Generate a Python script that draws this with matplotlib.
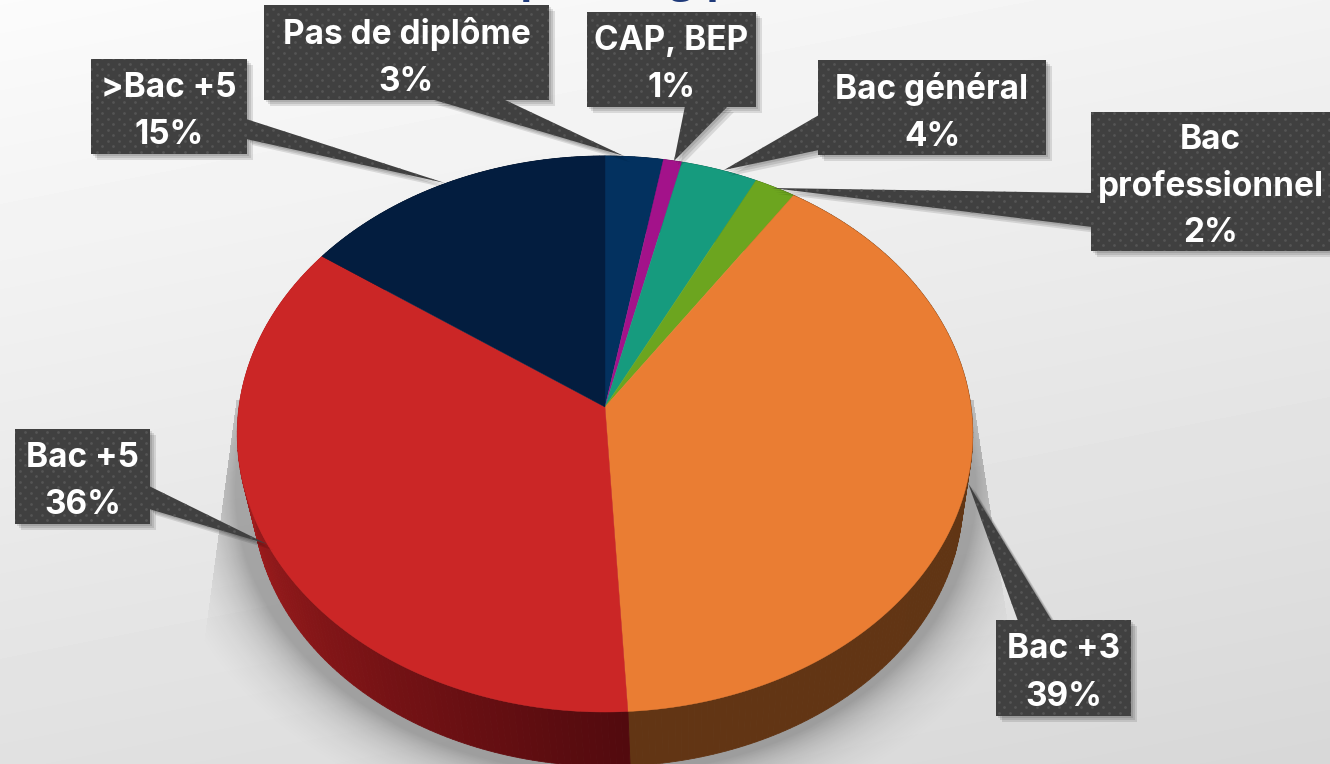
import numpy as np
import matplotlib
matplotlib.use("Agg")
import matplotlib.pyplot as plt
from matplotlib.colors import to_rgb

categories = ["Pas de diplôme", "CAP, BEP", "Bac général", "Bac\nprofessionnel", "Bac +3", "Bac +5", ">Bac +5"]
percent_labels = [3, 1, 4, 2, 39, 36, 15]
# slice sizes as measured on the picture, the labels above are rounded
shares = [2.8, 0.9, 3.7, 2.0, 39.7, 35.7, 15.2]

# styles and layout
top_colors = ["#03315f", "#a3128a", "#169b7e", "#6ca51f", "#ea7d33", "#cb2626", "#031d3f"]
wall_from = ["#021f3c", "#660b57", "#0d6150", "#446813", "#5e3414", "#520a0e", "#02122a"]
wall_to = ["#021f3c", "#660b57", "#0d6150", "#446813", "#623514", "#b02020", "#02122a"]
# left, top, right, bottom of each label box, then pointer base a, base b, tip
boxes = [(264, 5, 549, 100), (587, 12, 756, 107), (818, 60, 1046, 155), (1091, 112, 1332, 251),
         (996, 620, 1131, 716), (15, 429, 150, 524), (91, 59, 247, 154)]
pointers = [((431, 99), (503, 99), (624, 156)), ((685, 106), (728, 106), (674, 161)),
            ((819, 115), (819, 150), (724, 170)), ((1092, 193), (1092, 227), (772, 188)),
            ((1018, 621), (1052, 621), (968, 483)), ((149, 486), (149, 509), (267, 544)),
            ((246, 119), (246, 139), (445, 183))]
BOX = "#404040"
DOT = "#555555"

CX, CY = 605, 407
RX, RY, K = 366, 275.4, 0.0971


def rim(theta):
    # circle seen in perspective, theta clockwise from the top
    s, c = np.sin(theta), np.cos(theta)
    w = 1 + K * c
    return CX + RX * s / w, CY - RY * c / w


def low_rim(theta):
    x, y = rim(theta)
    return 608 + (x - CX) * 0.965, 498 + (y - 434) * 0.965


fig = plt.figure(figsize=(13.3, 7.64), dpi=100)
ax = fig.add_axes([0, 0, 1, 1])

# background
yy, xx = np.mgrid[0:764, 0:1330]
bg = 0.985 - 0.105 * yy / 764 - 0.036 * xx / 1330
ax.imshow(bg, cmap="gray", vmin=0, vmax=1, extent=(0, 1330, 764, 0), aspect="auto", zorder=0)

# soft pie shadow
d = (np.sqrt(((xx - 605) / 392) ** 2 + ((yy - 490) / 300) ** 2) - 1) * 392
alpha = 0.32 * np.clip(np.exp(-np.clip(d + 22, 0, None) / 35) - 0.1, 0, None)
left = 236 - (yy - 400) * 24 / 180
right = 973 + (yy - 400) * 17 / 110
alpha[(xx < left) | (xx > right) | (yy < 400)] = 0
shadow = np.zeros((764, 1330, 4))
shadow[..., 3] = alpha
ax.imshow(shadow, extent=(0, 1330, 764, 0), aspect="auto", zorder=1)

# pie
edges = 2 * np.pi * np.cumsum([0] + shares) / sum(shares)
for i in range(len(shares)):
    ts = np.linspace(edges[i], edges[i + 1], max(int((edges[i + 1] - edges[i]) * 60), 2) + 1)
    c0, c1 = np.array(to_rgb(wall_from[i])), np.array(to_rgb(wall_to[i]))
    for j in range(len(ts) - 1):
        t = ts[j:j + 2]
        ux, uy = rim(t)
        lx, ly = low_rim(t)
        col = c0 + (c1 - c0) * min(j / (len(ts) * 0.75), 1)
        ax.fill(np.r_[ux, lx[::-1]], np.r_[uy, ly[::-1]], color=col, lw=0.6, zorder=2)
for i in range(len(shares)):
    ts = np.linspace(edges[i], edges[i + 1], 200)
    x, y = rim(ts)
    ax.fill(np.r_[CX, x], np.r_[CY, y], color=top_colors[i], lw=0.3, zorder=3)

# cut off title, only the descenders are left on the picture
ax.text(533, -8, "p", color="#1f3a7a", fontsize=30, fontweight="bold",
        family="Open Sans", ha="center", va="baseline", zorder=2)
ax.text(695, -8, "gq", color="#1f3a7a", fontsize=30, fontweight="bold",
        family="Open Sans", ha="center", va="baseline", zorder=2)

# callouts
gy, gx = np.mgrid[0:780:5.5, 0:1340:11]
gx = gx + (np.arange(gx.shape[0])[:, None] % 2) * 5.5
for i, name in enumerate(categories):
    l, t, r, b = boxes[i]
    rect = [(l, t), (r, t), (r, b), (l, b)]
    for poly in (rect, pointers[i]):
        px, py = np.array(poly).T
        for off in (2, 4, 6):
            ax.fill(px + off, py + off, color="black", alpha=0.11, lw=0, zorder=4)
for i, name in enumerate(categories):
    l, t, r, b = boxes[i]
    rect = [(l, t), (r, t), (r, b), (l, b)]
    for poly in (rect, pointers[i]):
        px, py = np.array(poly).T
        patch = ax.fill(px, py, color=BOX, lw=0, zorder=5)[0]
        dots = ax.scatter(gx.ravel() + 3, gy.ravel() + 3, s=4, color=DOT, lw=0, zorder=5.5)
        dots.set_clip_path(patch)
    spacing = 1.55 if "\n" in name else 1.62
    ax.text((l + min(r, 1330)) / 2, (t + b) / 2 + 5, f"{name}\n{percent_labels[i]}%", color="white",
            fontsize=24, fontweight="bold", family="Inter", ha="center", va="center",
            linespacing=spacing, zorder=6)

ax.set_xlim(0, 1330)
ax.set_ylim(764, 0)
ax.axis("off")
fig.savefig("out.png", dpi=100)
